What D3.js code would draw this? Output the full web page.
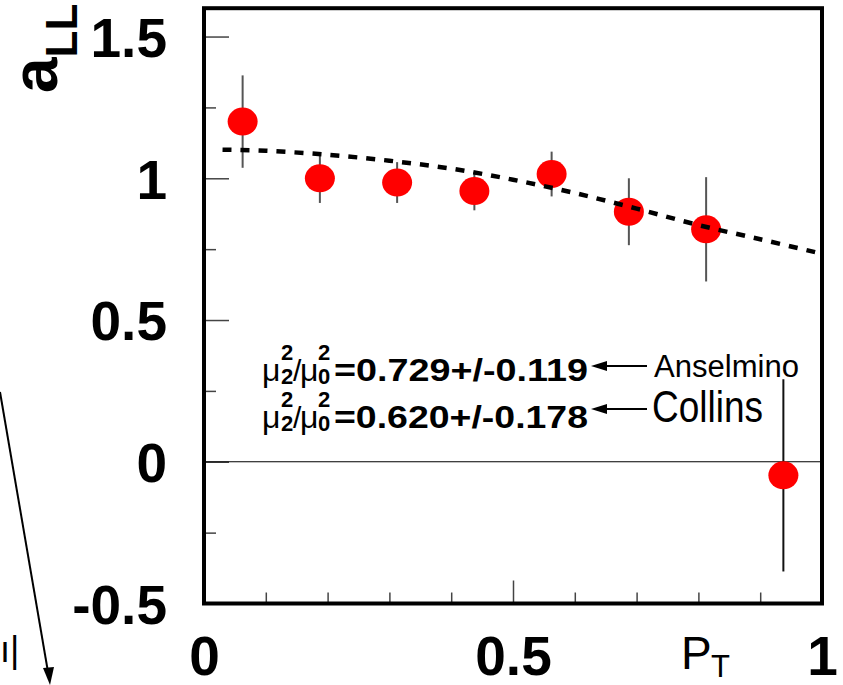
<!DOCTYPE html>
<html>
<head>
<meta charset="utf-8">
<script src="https://cdn.jsdelivr.net/npm/d3@7"></script>
<style>
  html, body { margin: 0; padding: 0; background: #fff; }
  svg { display: block; font-family: "Liberation Sans", Arial, sans-serif; }
</style>
</head>
<body>
<svg id="chart" width="843" height="685"></svg>
<script>
// data
const ptX   = [0.0625, 0.1875, 0.3125, 0.4375, 0.5625, 0.6875, 0.8125, 0.9375];
const ptY   = [1.20, 1.00, 0.985, 0.955, 1.015, 0.882, 0.82, -0.048];
const ptErr = [0.163, 0.087, 0.072, 0.068, 0.079, 0.118, 0.184, 0.339];

// dashed model curve
const fitX = [0.03, 0.1, 0.2, 0.3, 0.4, 0.5, 0.6, 0.7, 0.8, 0.9, 0.99];
const fitY = [1.101, 1.097, 1.083, 1.062, 1.034, 0.995, 0.948, 0.893, 0.835, 0.785, 0.739];

// ticks
const yMajor = [-0.5, 0, 0.5, 1, 1.5];
const yMinor = [-0.25, 0.25, 0.75, 1.25];
const xMajor = [0, 0.5, 1];
const xMinor = [0.1, 0.2, 0.3, 0.4, 0.6, 0.7, 0.8, 0.9];

// annotation text
const ratioVals  = ["=0.729+/-0.119", "=0.620+/-0.178"];
const modelNames = ["Anselmino", "Collins"];

const svg = d3.select("#chart");

const x = d3.scaleLinear().domain([0, 1]).range([204, 822]);
const y = d3.scaleLinear().domain([-0.5, 1.6]).range([603.5, 8.2]);

// minor ticks
svg.append("g")
  .attr("transform", `translate(${x(0)},0)`)
  .call(d3.axisLeft(y).tickValues(yMinor).tickSizeInner(-12).tickSizeOuter(0).tickFormat(""))
  .call(g => g.select(".domain").remove());
svg.append("g")
  .attr("transform", `translate(0,${y(-0.5)})`)
  .call(d3.axisBottom(x).tickValues(xMinor).tickSizeInner(-11).tickSizeOuter(0).tickFormat(""))
  .call(g => g.select(".domain").remove());

// major ticks + labels
const gy = svg.append("g")
  .attr("transform", `translate(${x(0)},0)`)
  .call(d3.axisLeft(y).tickValues(yMajor).tickSizeInner(-25).tickSizeOuter(0)
    .tickPadding(37).tickFormat(d => String(d)))
  .call(g => g.select(".domain").remove());
gy.selectAll("text").attr("dy", "0.36em");

const gx = svg.append("g")
  .attr("transform", `translate(0,${y(-0.5)})`)
  .call(d3.axisBottom(x).tickValues(xMajor).tickSizeInner(-23).tickSizeOuter(0)
    .tickFormat(d => String(d)))
  .call(g => g.select(".domain").remove());
gx.selectAll("text").attr("y", 71).attr("dy", 0);

svg.selectAll(".tick line").attr("stroke", "#444").attr("stroke-width", 1.5);
svg.selectAll(".tick text")
  .attr("fill", "#000")
  .style("font-size", "55px")
  .style("font-weight", "bold")
  .style("font-family", "'Liberation Sans', Arial, sans-serif");

// zero line
svg.append("line")
  .attr("x1", x(0)).attr("x2", x(1))
  .attr("y1", y(0)).attr("y2", y(0))
  .attr("stroke", "#000").attr("stroke-width", 1.2);

// error bars
svg.selectAll("line.err")
  .data(ptX)
  .join("line")
    .attr("class", "err")
    .attr("x1", d => x(d)).attr("x2", d => x(d))
    .attr("y1", (d, i) => y(ptY[i] + ptErr[i]))
    .attr("y2", (d, i) => y(ptY[i] - ptErr[i]))
    .attr("stroke", (d, i) => i === 7 ? "#111" : "#555")
    .attr("stroke-width", 2);

// points
svg.selectAll("ellipse.pt")
  .data(ptX)
  .join("ellipse")
    .attr("class", "pt")
    .attr("cx", d => x(d))
    .attr("cy", (d, i) => y(ptY[i]))
    .attr("rx", 15)
    .attr("ry", 14)
    .attr("fill", "#ff0000");

// dashed curve
const line = d3.line()
  .x(d => x(d[0]))
  .y(d => y(d[1]))
  .curve(d3.curveCatmullRom);
svg.append("path")
  .attr("d", line(fitX.map((v, i) => [v, fitY[i]])))
  .attr("fill", "none")
  .attr("stroke", "#000")
  .attr("stroke-width", 4.5)
  .attr("stroke-dasharray", "9,9");

// frame
svg.append("rect")
  .attr("x", x(0)).attr("y", y(1.6))
  .attr("width", x(1) - x(0)).attr("height", y(-0.5) - y(1.6))
  .attr("fill", "none")
  .attr("stroke", "#000")
  .attr("stroke-width", 4);

// y title a_LL (rotated)
const yt = svg.append("text")
  .attr("transform", "translate(57,93) rotate(-90)")
  .style("font-weight", "bold")
  .style("font-size", "64px");
yt.append("tspan").text("a");
yt.append("tspan").attr("dy", 20).style("font-size", "44px").text("LL");

// x title P_T
const xt = svg.append("text").attr("x", 681).attr("y", 669).style("font-size", "46px");
xt.append("tspan").text("P");
xt.append("tspan").attr("x", 711).attr("y", 677).style("font-size", "31px").text("T");

// fit results
ratioVals.forEach((txt, i) => {
  const base = 381 + i * 47;
  const g = svg.append("g");
  g.append("text").attr("x", 262).attr("y", base).style("font-size", "32px").text("\u03bc");
  g.append("text").attr("x", 281).attr("y", base - 21).style("font-size", "22px").style("font-weight", "bold").text("2");
  g.append("text").attr("x", 281).attr("y", base + 3).style("font-size", "22px").style("font-weight", "bold").text("2");
  g.append("text").attr("x", 293).attr("y", base).style("font-size", "30px").text("/");
  g.append("text").attr("x", 300).attr("y", base).style("font-size", "32px").text("\u03bc");
  g.append("text").attr("x", 318).attr("y", base - 21).style("font-size", "22px").style("font-weight", "bold").text("2");
  g.append("text").attr("x", 318).attr("y", base + 3).style("font-size", "22px").style("font-weight", "bold").text("0");
  g.append("text").attr("x", 334).attr("y", base)
    .style("font-size", "32px").style("font-weight", "bold")
    .attr("textLength", 254).attr("lengthAdjust", "spacingAndGlyphs")
    .text(txt);
});

// arrows to model names
const arrowY = [366, 409];
arrowY.forEach(ay => {
  svg.append("line")
    .attr("x1", 603).attr("x2", 647)
    .attr("y1", ay).attr("y2", ay)
    .attr("stroke", "#000").attr("stroke-width", 2);
  svg.append("path")
    .attr("d", `M591,${ay} L607,${ay - 5} L607,${ay + 5} Z`)
    .attr("fill", "#000");
});

svg.append("text").attr("x", 654).attr("y", 377)
  .style("font-size", "31px")
  .attr("textLength", 145).attr("lengthAdjust", "spacingAndGlyphs")
  .text(modelNames[0]);
svg.append("text").attr("x", 652).attr("y", 422)
  .style("font-size", "44px")
  .attr("textLength", 111).attr("lengthAdjust", "spacingAndGlyphs")
  .text(modelNames[1]);

// stray pointer line from the left edge
svg.append("line")
  .attr("x1", 0).attr("y1", 392)
  .attr("x2", 48).attr("y2", 672)
  .attr("stroke", "#000").attr("stroke-width", 2);
svg.append("path")
  .attr("d", "M50,685 L43,668 L54,667 Z")
  .attr("fill", "#000");
svg.append("text").attr("x", 0).attr("y", 662)
  .style("font-size", "36px").text("\u0131|");
</script>
</body>
</html>
